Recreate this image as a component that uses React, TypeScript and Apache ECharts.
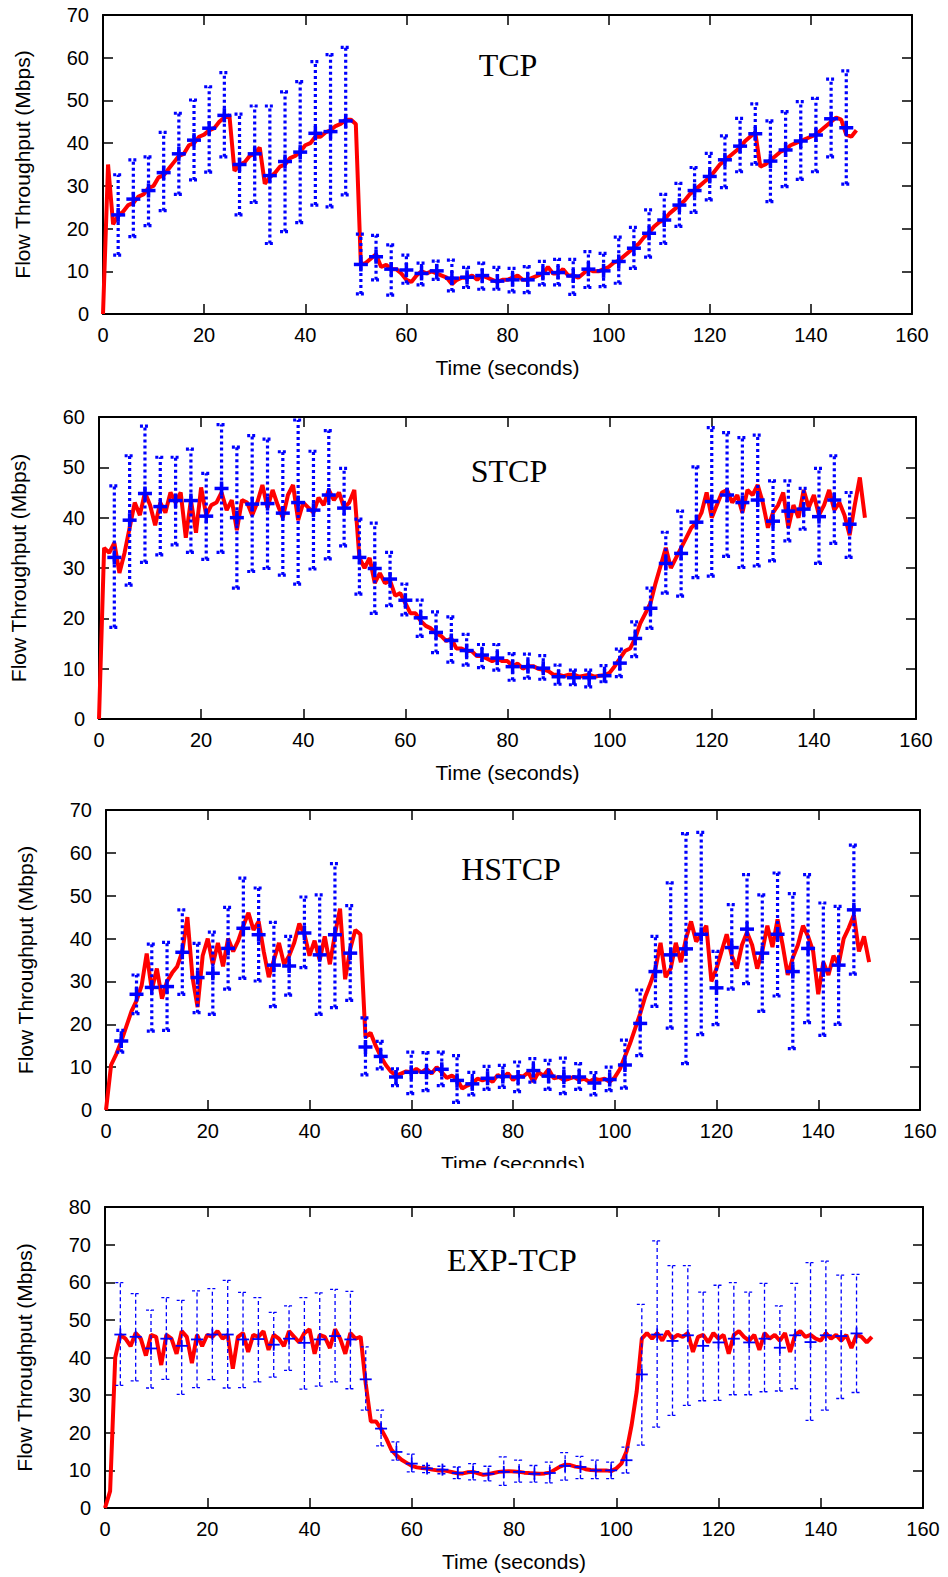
import React, { useEffect, useRef } from "react";
import * as echarts from "echarts";

// ---------------- DATA ----------------
const panelNames = ["TCP", "STCP", "HSTCP", "EXP-TCP"];
const yMaxes = [70, 60, 70, 80];
const xTickStep = 20;
const yTickStep = 10;
const xMax = 160;

// red throughput lines, one value per second starting at t = 0
const tcpLine = [
  0, 35, 21, 23, 24, 25.5, 26, 27.5, 28, 29.5, 30, 32, 32.5, 34, 35.5, 37, 37.5, 39.5, 40, 41.5,
  42, 43, 43.5, 45, 46, 46.5, 33.5, 35, 35.5, 37, 37.5, 39, 30.5, 32, 33, 34.5, 35, 36.5, 37, 38,
  39.5, 40, 41.5, 41.5, 42.5, 43, 44, 44.5, 45.5, 45.5, 44.5, 11.5, 12, 13, 14, 11, 11.5, 10.5, 10.5, 9.5,
  8, 7.5, 9, 10, 9.5, 10, 9.5, 9, 8.5, 7, 8, 8.5, 8.5, 9, 8, 9, 8.5, 8, 7.5, 8,
  8, 8.5, 9, 8, 8, 8.5, 9, 9.5, 11, 9.5, 9.5, 10.5, 9, 9, 8.5, 9.5, 10.5, 10, 10, 10.5,
  11, 12, 12.5, 13.5, 14.5, 15.5, 16.5, 18, 19, 20.5, 21.5, 22, 23.5, 24.5, 25.5, 26.5, 28, 29, 30, 31,
  32, 33.5, 35, 36, 37, 38, 39, 40.5, 41.5, 42.5, 34.5, 35, 36, 37, 38, 38.5, 39.5, 40, 40.5, 41,
  41.5, 42, 43, 44, 45, 46, 45.5, 42, 41.5, 43,
];
const stcpLine = [
  0, 34, 33, 35, 29, 33, 38, 43, 40.5, 45, 42.5, 38.5, 43, 41, 45, 43, 45, 36, 43.5, 37,
  46, 40.5, 42.5, 43, 45, 41.5, 43.5, 37.5, 43.5, 43, 40.5, 43, 46.5, 42, 45.5, 42.5, 40, 44.5, 46.5, 39.5,
  43, 42, 41, 44, 42.5, 45.5, 43.5, 45, 42, 43, 45.5, 32, 30, 32, 27, 29, 27, 27.5, 24.5, 25,
  23, 21, 21, 19.5, 18.5, 18, 17, 16.5, 15.5, 16, 14, 14, 13.5, 13.5, 12.5, 12.5, 12, 11.5, 12, 11.5,
  11.5, 10.5, 11, 10, 10.5, 10.5, 10, 9.8, 9.5, 8.8, 8.8, 8.5, 8.8, 8.8, 8.4, 8.6, 8.8, 8.4, 8.6, 8.7,
  9.2, 10.5, 12, 13.5, 14, 16, 19, 21, 23, 27, 30.5, 34, 30, 32, 34, 36, 38, 39, 41, 45,
  40, 42.5, 45, 45.5, 43, 44.5, 41, 45.5, 44.5, 46.5, 43, 38, 41, 42.5, 45, 38, 42.5, 40, 45.5, 42,
  44.5, 40.5, 42.5, 45.5, 41.5, 43, 40.5, 36.5, 42.5, 48, 40,
];
const hstcpLine = [
  0, 10.5, 13, 16, 19.5, 23, 25.5, 29, 36.5, 28, 33, 26, 30, 32, 33.5, 37, 45, 31, 24, 36,
  40, 34, 39, 33.5, 40, 37, 39.5, 43, 46, 42, 44, 37, 31, 35, 39, 34, 36, 39, 43.5, 41,
  36, 39.5, 35, 40.5, 34, 41, 47, 30.5, 37.5, 42, 41, 17, 18, 15, 12.5, 10.5, 9, 8, 8.5, 9,
  8.8, 9.6, 8.8, 9.6, 8.5, 10, 8.8, 7.5, 8, 7.2, 5, 5.7, 6.2, 7.3, 6.9, 7.3, 6.6, 8.2, 7.5, 8.6,
  7, 8, 7.8, 8.8, 6.6, 8.8, 8, 9.5, 7.4, 7.7, 7, 7.3, 7.7, 7, 7.3, 6.6, 7.3, 7, 7.3, 6.6,
  7.6, 9.5, 12.5, 15.5, 19, 22.5, 26.5, 29.5, 33, 39, 31, 33, 39, 34.5, 40, 44, 39.3, 41, 43, 30,
  33, 37, 41, 36, 33, 38.5, 41.5, 38.5, 33, 37, 43, 38, 44.5, 38.5, 31.5, 35.5, 38.5, 43, 40.5, 37,
  27, 34.5, 31.5, 36, 34, 40, 42.5, 45.5, 37, 40.5, 34.5,
];
const expLine = [
  0, 4.5, 40, 46, 45, 43, 46.5, 45, 40.5, 46, 45.5, 38, 46, 45, 41, 47, 45.5, 38.5, 46, 43,
  46, 45.5, 47, 45, 46, 37, 45.5, 46.5, 41.5, 46, 45.5, 47, 42, 46, 45, 43, 47, 45.5, 44, 46.5,
  47.5, 41, 46, 45.5, 42.5, 47.5, 45, 41, 46.5, 45, 45.5, 33, 23, 23, 21, 18.5, 15.5, 14, 12.8, 12,
  11.2, 10.8, 10.6, 10.5, 10.2, 10, 10, 9.8, 9.5, 9.2, 9.2, 9.5, 9.6, 9.2, 8.8, 9, 9.3, 9.6, 9.7, 9.8,
  9.7, 9.6, 9.4, 9.3, 9.2, 9.1, 9.2, 9.4, 10.2, 11, 11.5, 11.4, 11, 10.8, 10.3, 10.1, 10, 10, 10, 9.8,
  10.5, 11.8, 15, 22, 31, 45, 46.5, 45, 46.5, 44.5, 47, 45, 46, 45.5, 46.5, 41.5, 45.5, 46, 44, 46.5,
  45, 46, 41, 46, 47, 45.5, 44.5, 46, 42, 46.5, 45, 46, 44.5, 46.5, 41.5, 46, 47, 45.5, 46, 45,
  44.5, 46.5, 45, 46, 44.5, 46, 42.5, 46, 45.5, 44, 45.5,
];

// error-bar sample times (seconds)
const errTimes = [
  3, 6, 9, 12, 15, 18, 21, 24, 27, 30, 33, 36, 39, 42, 45, 48, 51, 54, 57, 60, 63, 66, 69, 72, 75,
  78, 81, 84, 87, 90, 93, 96, 99, 102, 105, 108, 111, 114, 117, 120, 123, 126, 129, 132, 135, 138,
  141, 144, 147,
];

const tcpMean = [
  23.2, 26.9, 28.9, 33.1, 37.5, 40.7, 43.5, 46.5, 35.0, 37.5, 32.4, 35.7, 37.9, 42.3, 42.7, 45.2,
  11.6, 13.4, 10.5, 10.3, 9.5, 10.1, 8.4, 8.6, 9.0, 7.7, 8.0, 8.0, 9.5, 9.7, 8.9, 10.5, 10.1, 12.3,
  15.4, 18.9, 22.0, 25.5, 28.9, 32.2, 36.1, 39.3, 42.2, 35.8, 38.4, 40.5, 41.9, 45.7, 43.6,
];
const tcpMax = [
  32.6, 36.1, 36.8, 42.5, 47.0, 50.1, 53.2, 56.5, 46.8, 48.7, 48.7, 52.0, 54.4, 59.1, 60.7, 62.4,
  18.7, 18.4, 16.2, 13.8, 11.9, 12.4, 12.6, 10.9, 11.9, 10.9, 10.7, 11.1, 12.3, 12.8, 12.8, 14.6,
  14.2, 18.0, 20.3, 24.4, 28.0, 30.6, 34.3, 37.6, 41.7, 45.8, 49.2, 45.2, 47.4, 49.7, 50.5, 55.0, 56.9,
];
const tcpMin = [
  13.8, 18.1, 20.7, 24.2, 28.0, 31.4, 33.2, 36.8, 23.2, 26.1, 16.5, 19.3, 21.4, 25.5, 25.1, 27.9,
  4.7, 8.0, 4.4, 7.2, 6.8, 8.1, 5.4, 6.2, 5.8, 5.8, 5.2, 5.0, 6.8, 6.8, 4.6, 6.2, 6.4, 7.2, 10.7,
  13.3, 16.5, 20.5, 23.8, 26.7, 29.6, 33.3, 35.1, 26.3, 29.8, 31.5, 33.3, 36.8, 30.4,
];

const stcpMean = [
  32.1, 39.5, 44.8, 42.2, 43.4, 43.4, 40.3, 45.8, 40.0, 42.7, 42.8, 40.9, 43.0, 41.5, 44.5, 41.9,
  32.1, 29.9, 27.8, 23.6, 20.1, 17.2, 15.6, 13.6, 12.7, 12.1, 10.4, 10.4, 10.1, 8.4, 8.2, 8.2, 8.6,
  11.1, 16.0, 22.0, 30.9, 32.9, 39.1, 43.2, 44.5, 43.0, 43.5, 39.3, 41.3, 41.7, 40.2, 43.5, 38.7,
];
const stcpMax = [
  46.3, 52.3, 58.2, 52.0, 52.0, 53.6, 48.8, 58.5, 54.0, 56.3, 55.6, 53.1, 59.4, 53.2, 57.3, 49.8,
  39.7, 38.9, 33.1, 26.8, 23.6, 21.3, 20.3, 16.8, 14.8, 14.8, 13.0, 12.9, 12.6, 10.7, 9.7, 9.7, 10.6,
  13.9, 19.3, 26.0, 37.1, 41.3, 50.1, 57.9, 56.9, 55.9, 56.4, 47.3, 47.3, 45.8, 49.8, 52.3, 45.0,
];
const stcpMin = [
  18.2, 26.6, 31.1, 32.6, 34.6, 33.1, 31.7, 33.1, 26.0, 29.3, 29.9, 28.6, 26.8, 29.8, 31.8, 34.4,
  24.8, 21.0, 22.5, 20.7, 16.4, 13.2, 11.3, 10.7, 10.2, 9.7, 7.7, 8.1, 7.9, 6.9, 6.8, 6.4, 7.4, 8.4,
  12.4, 18.0, 25.0, 24.4, 28.1, 28.4, 32.3, 30.1, 30.4, 31.4, 35.4, 37.7, 30.9, 34.9, 32.1,
];

const hstcpMean = [
  16.1, 27.0, 28.6, 28.8, 36.8, 30.9, 31.9, 37.7, 42.4, 40.9, 33.8, 33.6, 41.3, 36.2, 40.9, 36.6,
  14.7, 12.5, 7.7, 8.8, 8.8, 9.5, 6.9, 6.1, 7.4, 7.8, 7.7, 9.2, 7.9, 7.7, 7.7, 6.3, 7.1, 10.5, 20.2,
  32.3, 36.2, 37.6, 41.0, 28.5, 37.9, 42.2, 36.6, 41.0, 32.3, 37.7, 32.7, 33.8, 46.7,
];
const hstcpMax = [
  18.6, 31.5, 38.7, 39.1, 46.7, 38.9, 41.5, 47.3, 54.1, 51.8, 43.8, 40.5, 49.7, 50.2, 57.5, 47.7,
  21.5, 16.0, 9.6, 13.5, 13.4, 13.5, 12.7, 8.8, 10.2, 10.4, 11.2, 12.0, 11.6, 12.1, 10.8, 8.7, 10.0,
  16.3, 28.0, 40.5, 53.0, 64.5, 64.8, 37.0, 47.9, 54.9, 50.2, 55.3, 50.5, 54.9, 48.3, 47.5, 61.8,
];
const hstcpMin = [
  13.5, 22.5, 18.4, 18.6, 27.0, 22.7, 22.3, 28.2, 30.7, 30.1, 24.1, 26.8, 33.2, 22.3, 23.9, 25.6,
  8.2, 9.6, 5.7, 3.8, 4.5, 5.7, 1.8, 3.5, 4.8, 5.3, 4.3, 6.5, 4.8, 3.8, 4.8, 3.5, 4.5, 5.1, 12.7,
  24.2, 19.1, 10.8, 17.6, 19.9, 28.2, 29.5, 23.0, 26.6, 14.3, 20.4, 17.4, 20.0, 31.7,
];

const expMean = [
  46.1, 45.5, 42.4, 45.0, 43.1, 44.8, 46.1, 46.1, 44.8, 44.9, 43.4, 45.0, 43.9, 44.8, 45.7, 44.8,
  34.2, 21.1, 14.9, 11.8, 10.5, 10.2, 9.3, 9.6, 9.1, 9.6, 9.6, 9.1, 9.3, 11.2, 10.9, 10.0, 10.0, 12.7,
  35.5, 46.1, 44.4, 45.9, 43.1, 44.0, 45.0, 44.0, 45.0, 42.6, 45.9, 44.1, 45.9, 45.7, 46.4,
];
const expMax = [
  59.9, 57.0, 52.6, 55.9, 55.2, 57.7, 58.3, 60.5, 57.3, 55.9, 52.0, 53.7, 55.9, 57.2, 58.1, 57.6,
  42.8, 26.0, 17.6, 14.3, 11.3, 11.1, 10.9, 11.8, 11.1, 13.6, 12.7, 11.3, 12.2, 14.7, 13.7, 12.7,
  12.2, 16.2, 54.1, 71.0, 64.4, 64.4, 57.4, 59.2, 59.9, 57.4, 59.7, 53.7, 59.7, 65.2, 65.6, 61.9, 62.1,
];
const expMin = [
  32.6, 33.8, 31.9, 34.2, 30.2, 32.0, 34.1, 31.9, 32.0, 33.5, 34.8, 36.6, 31.6, 32.4, 33.5, 31.7,
  26.0, 16.5, 12.7, 9.6, 9.4, 9.1, 7.8, 7.5, 7.2, 6.0, 6.9, 6.9, 6.7, 7.4, 7.8, 7.8, 7.8, 9.3, 16.7,
  21.5, 24.6, 27.3, 28.5, 28.6, 30.1, 30.1, 30.9, 31.1, 31.7, 23.3, 26.0, 29.1, 30.7,
];

const lines = [tcpLine, stcpLine, hstcpLine, expLine];
const means = [tcpMean, stcpMean, hstcpMean, expMean];
const maxes = [tcpMax, stcpMax, hstcpMax, expMax];
const mins = [tcpMin, stcpMin, hstcpMin, expMin];

// ---------------- LAYOUT ----------------
const grids = [
  { left: 103, top: 15, width: 809, height: 299 },
  { left: 99, top: 417, width: 817, height: 302 },
  { left: 106, top: 810, width: 814, height: 300 },
  { left: 105, top: 1207, width: 818, height: 301 },
];
const titlePos = [
  [508, 65],
  [509, 471],
  [511, 869],
  [512, 1260],
];

const SANS = '"Liberation Sans", Arial, sans-serif';
const SERIF = '"Liberation Serif", "Times New Roman", serif';

function makeRenderItem(thin: boolean) {
  return (_params: any, api: any) => {
    const t = api.value(0);
    const lo = api.coord([t, api.value(1)]);
    const hi = api.coord([t, api.value(2)]);
    const m = api.coord([t, api.value(3)]);
    const stroke = "#0000ff";
    const lw = thin ? 1.3 : 3.2;
    const dash = thin ? [4, 3] : [3, 3];
    const capDash = thin ? [3, 2] : [3, 2];
    const cap = 5;
    const plus = thin ? 6 : 7;
    const plw = thin ? 1.8 : 3.5;
    return {
      type: "group",
      children: [
        { type: "line", shape: { x1: lo[0], y1: lo[1], x2: hi[0], y2: hi[1] }, style: { stroke, lineWidth: lw, lineDash: dash } },
        { type: "line", shape: { x1: hi[0] - cap, y1: hi[1], x2: hi[0] + cap, y2: hi[1] }, style: { stroke, lineWidth: lw, lineDash: capDash } },
        { type: "line", shape: { x1: lo[0] - cap, y1: lo[1], x2: lo[0] + cap, y2: lo[1] }, style: { stroke, lineWidth: lw, lineDash: capDash } },
        { type: "line", shape: { x1: m[0] - plus, y1: m[1], x2: m[0] + plus, y2: m[1] }, style: { stroke, lineWidth: plw } },
        { type: "line", shape: { x1: m[0], y1: m[1] - plus, x2: m[0], y2: m[1] + plus }, style: { stroke, lineWidth: plw } },
      ],
    };
  };
}

function buildOption() {
  const grid: any[] = [];
  const xAxis: any[] = [];
  const yAxis: any[] = [];
  const series: any[] = [];
  const graphic: any[] = [];
  const axisLine = { show: true, onZero: false, lineStyle: { color: "#000", width: 2 } };
  const axisTick = { show: true, inside: true, length: 10, lineStyle: { color: "#000", width: 1.5 } };

  panelNames.forEach((name, i) => {
    grid.push({ ...grids[i], containLabel: false });
    xAxis.push({
      type: "value", gridIndex: i, position: "bottom", min: 0, max: xMax, interval: xTickStep,
      axisLine, axisTick, splitLine: { show: false },
      axisLabel: { color: "#000", fontSize: 20, fontFamily: SANS, margin: 11 },
      name: "Time (seconds)", nameLocation: "middle", nameGap: 43,
      nameTextStyle: { color: "#000", fontSize: 21, fontFamily: SANS },
    });
    xAxis.push({
      type: "value", gridIndex: i, position: "top", min: 0, max: xMax, interval: xTickStep,
      axisLine, axisTick, splitLine: { show: false }, axisLabel: { show: false },
    });
    yAxis.push({
      type: "value", gridIndex: i, position: "left", min: 0, max: yMaxes[i], interval: yTickStep,
      axisLine, axisTick, splitLine: { show: false },
      axisLabel: { color: "#000", fontSize: 20, fontFamily: SANS, margin: 14 },
      name: "Flow Throughput (Mbps)", nameLocation: "middle", nameGap: 70, nameRotate: 90,
      nameTextStyle: { color: "#000", fontSize: 21, fontFamily: SANS },
    });
    yAxis.push({
      type: "value", gridIndex: i, position: "right", min: 0, max: yMaxes[i], interval: yTickStep,
      axisLine, axisTick, splitLine: { show: false }, axisLabel: { show: false },
    });

    series.push({
      type: "line", xAxisIndex: 2 * i, yAxisIndex: 2 * i,
      data: lines[i].map((v, k) => [k, v]),
      showSymbol: false, symbol: "none",
      lineStyle: { color: "#ff0000", width: 4 },
      z: 2,
    });
    series.push({
      type: "custom", xAxisIndex: 2 * i, yAxisIndex: 2 * i,
      renderItem: makeRenderItem(i === 3),
      data: errTimes.map((t, k) => [t, mins[i][k], maxes[i][k], means[i][k]]),
      encode: { x: 0, y: [1, 2, 3] },
      clip: false,
      z: 3,
    });

    graphic.push({
      type: "text", x: titlePos[i][0], y: titlePos[i][1], z: 50,
      style: { text: name, font: `32px ${SERIF}`, fill: "#000", align: "center", verticalAlign: "middle" },
    });
  });

  // the third panel's x-axis title is cut off at the bottom in the original figure
  graphic.push({
    type: "rect", z: 100,
    shape: { x: 380, y: 1168, width: 280, height: 22 },
    style: { fill: "#fff" },
  });

  return { animation: false, backgroundColor: "#fff", grid, xAxis, yAxis, series, graphic };
}

export default function App() {
  const ref = useRef<HTMLDivElement>(null);
  useEffect(() => {
    if (!ref.current) return;
    const chart = echarts.init(ref.current, undefined, { renderer: "svg" });
    chart.setOption(buildOption() as any);
    return () => chart.dispose();
  }, []);
  return (
    <div
      ref={ref}
      style={{ position: "absolute", left: 0, top: 0, width: 948, height: 1577, background: "#fff" }}
    />
  );
}
